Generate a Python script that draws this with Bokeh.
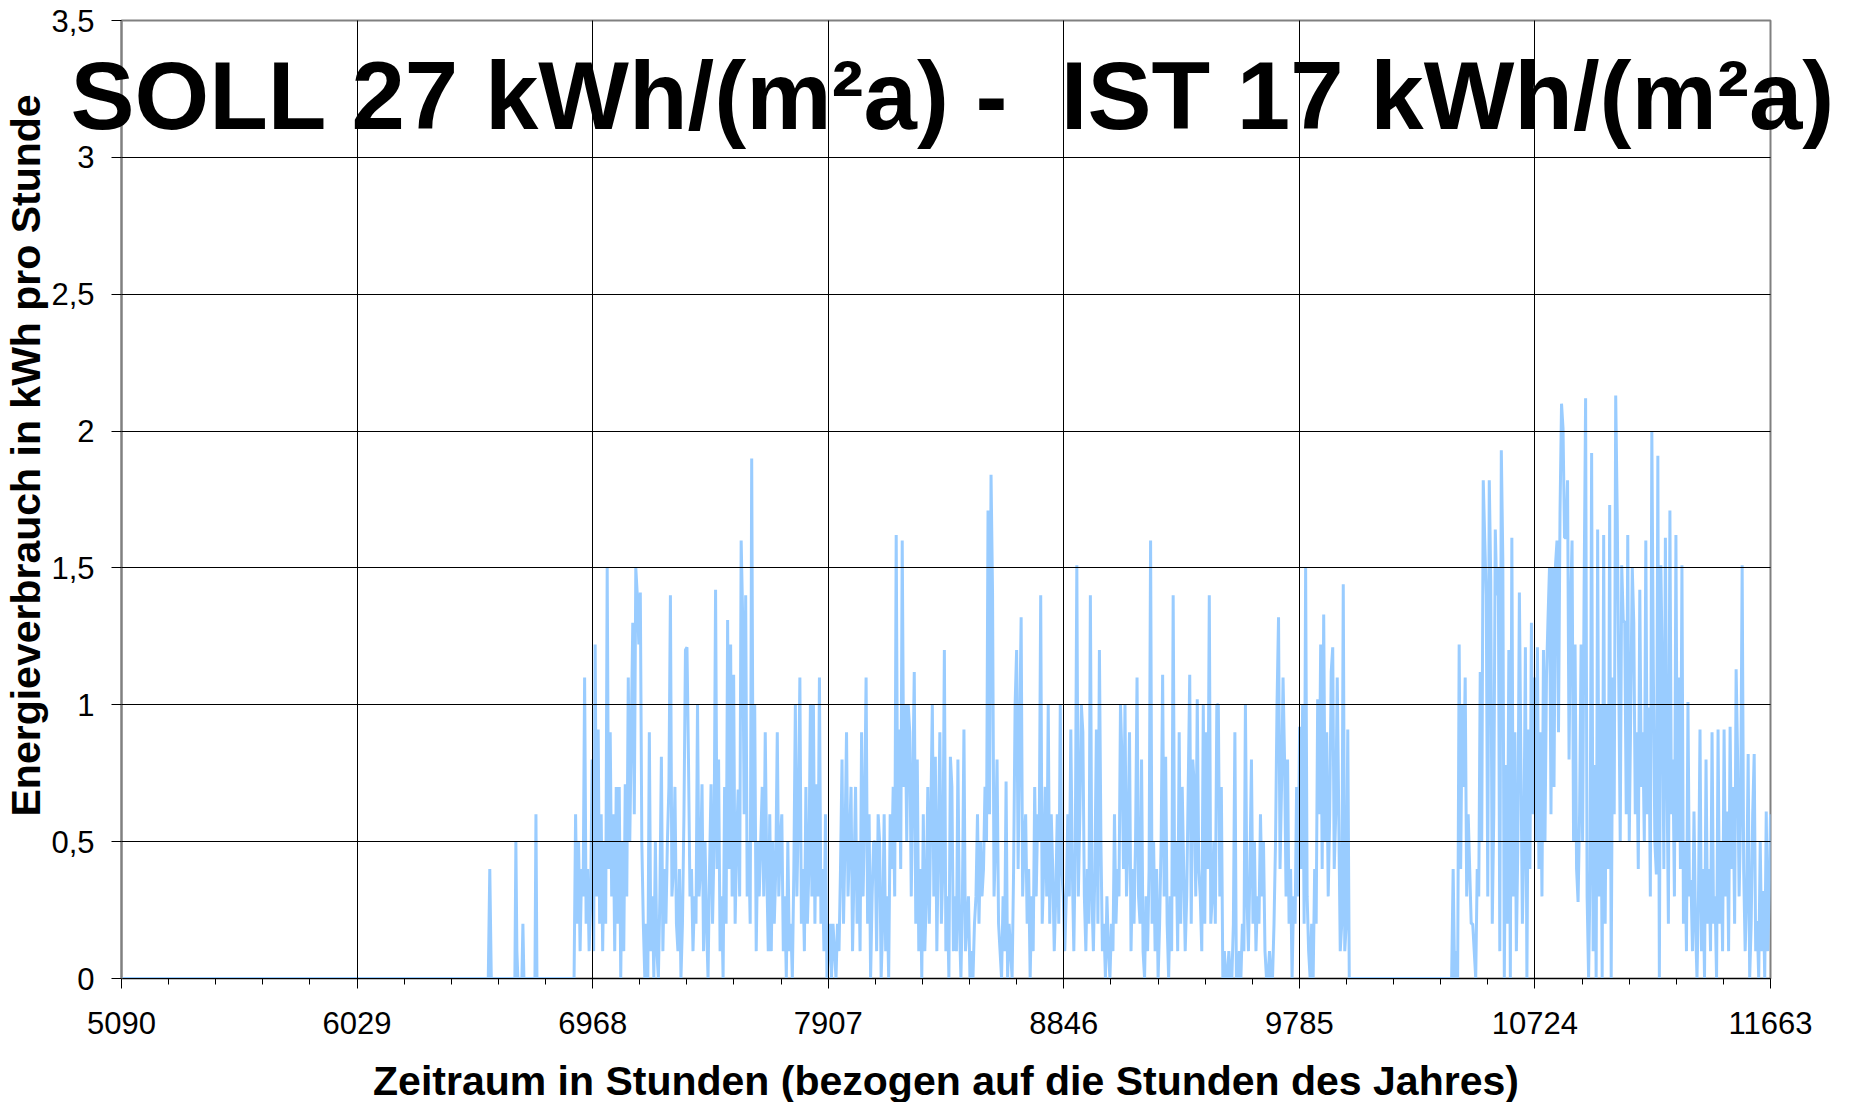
import numpy as np
from bokeh.plotting import figure
from bokeh.models import Range1d, FixedTicker, Title
from bokeh.embed import file_html
from bokeh.resources import INLINE

# ---------------- data ----------------
title_text = "SOLL 27 kWh/(m²a) -\u00a0 IST 17 kWh/(m²a)"
x_title = "Zeitraum in Stunden (bezogen auf die Stunden des Jahres)"
y_title = "Energieverbrauch in kWh pro Stunde"

x_ticks = [5090, 6029, 6968, 7907, 8846, 9785, 10724, 11663]
x_tick_labels = ["5090", "6029", "6968", "7907", "8846", "9785", "10724", "11663"]
y_ticks = [0, 0.5, 1, 1.5, 2, 2.5, 3, 3.5]
y_tick_labels = ["0", "0,5", "1", "1,5", "2", "2,5", "3", "3,5"]

# sparse start (hour, kWh)
pre_hours = [5090, 6552, 6558, 6564, 6658, 6662, 6666, 6670, 6686, 6690, 6694, 6738, 6742, 6746, 6894]
pre_values = [0, 0, 0.4, 0, 0, 0.5, 0.1, 0, 0, 0.2, 0, 0, 0.6, 0, 0]

# first heating block: every 6 hours from hour 6900
a_start, a_step = 6900, 6
a_values = [
    0.6, 0.2, 0.5, 0.1, 0.4, 0.3, 1.1, 0.2, 0.4, 0.1, 0.3, 0.8, 0.1, 1.22, 0.3, 0.91, 0.2, 0.6, 0.1, 0.5,
    0.2, 1.5, 0.4, 0.9, 0.3, 0.6, 0.1, 0.7, 0.2, 0.7, 0.0, 0.5, 0.1, 0.71, 0.3, 1.1, 0.5, 0.9, 1.3, 0.6,
    1.5, 1.4, 1.22, 1.41, 0.5, 0.2, 0.0, 0.2, 0.0, 0.9, 0.1, 0.3, 0.0, 0.5, 0.1, 0.0, 0.3, 0.81, 0.1, 0.4,
    0.2, 0.5, 0.7, 1.4, 0.3, 0.4, 0.7, 0.2, 0.1, 0.4, 0.0, 0.2, 0.6, 1.2, 1.21, 0.8, 0.3, 0.4, 0.1, 0.3,
    0.2, 1.0, 0.3, 0.4, 0.71, 0.1, 0.5, 0.2, 0.0, 0.4, 0.71, 0.2, 0.5, 1.42, 0.4, 0.8, 0.1, 0.3, 0.0, 0.7,
    0.2, 1.31, 0.4, 1.22, 0.3, 1.11, 0.2, 0.5, 0.69, 0.3, 1.6, 1.32, 0.6, 1.4, 0.3, 0.5, 0.2, 1.9, 0.5, 1.0,
    0.1, 0.5, 0.3, 0.5, 0.7, 0.3, 0.9, 0.4, 0.1, 0.6, 0.1, 0.5, 0.2, 0.4, 0.9, 0.3, 0.5, 0.6, 0.1, 0.3,
    0.0, 0.5, 0.1, 0.2, 0.0, 0.4, 1.0, 0.3, 0.6, 1.1, 0.2, 0.4, 0.1, 0.7, 0.2, 0.4, 1.0, 0.3, 1.0, 0.2,
    0.71, 0.3, 1.1, 0.2, 0.4, 0.1, 0.6, 0.0, 0.1, 0.2, 0.0, 0.2, 0.1, 0.0, 0.2, 0.1, 0.4, 0.8, 0.2, 0.5,
    0.9, 0.3, 0.5, 0.7, 0.1, 0.4, 0.7, 0.2, 0.5, 0.1, 0.9, 0.3, 0.6, 1.1, 0.2, 0.6, 0.0, 0.3, 0.5, 0.5,
    0.1, 0.6, 0.5, 0.0, 0.2, 0.6, 0.1, 0.3, 0.0, 0.6, 0.4, 0.7, 0.3, 1.62, 0.5, 0.91, 0.4, 1.6, 0.7, 1.0,
    0.5, 1.0, 0.9, 0.3, 0.71, 1.12, 0.2, 0.8, 0.1, 0.4, 0.0, 0.6, 0.1, 0.3, 0.7, 0.2, 0.6, 1.0, 0.3, 0.81,
    0.1, 0.5, 0.9, 0.2, 0.4, 1.2, 0.1, 0.3, 0.0, 0.81, 0.7, 0.1, 0.3, 0.1, 0.8, 0.2, 0.0, 0.3, 0.91, 0.1,
    0.2, 0.3, 0.0, 0.1, 0.0, 0.2, 0.3, 0.6, 0.2, 0.5, 0.3, 0.4, 0.7, 0.5, 1.71, 0.6, 1.84, 1.41, 0.3, 0.5,
    0.8, 0.2, 0.1, 0.0, 0.3, 0.1, 0.72, 0.0, 0.2, 0.1, 0.0, 0.4, 1.0, 1.2, 0.4, 0.9, 1.32, 0.3, 0.5, 0.6,
    0.2, 0.4, 0.0, 0.3, 0.1, 0.7, 0.3, 0.6, 0.5, 1.4, 0.2, 0.4, 0.7, 0.3, 1.0, 0.2, 0.6, 0.4, 0.1, 0.3,
    0.6, 0.2, 1.0, 0.4, 0.3, 0.1, 0.3, 0.6, 0.3, 0.91, 0.4, 0.1, 0.5, 1.51, 0.3, 0.6, 1.0, 0.9, 0.3, 0.1,
    0.4, 0.2, 1.4, 0.3, 0.1, 0.4, 0.91, 0.2, 1.2, 0.5, 0.1, 0.2, 0.0, 0.3, 0.1, 0.0, 0.2, 0.1, 0.6, 0.2,
    0.4, 0.3, 1.0, 0.8, 0.4, 1.0, 0.3, 0.5, 0.9, 0.1, 0.4, 0.2, 0.5, 1.1, 0.3, 0.2, 0.8, 0.1, 0.0, 0.3,
    0.1, 0.4, 1.6, 0.2, 0.5, 0.1, 0.4, 0.0, 0.2, 0.5, 1.11, 0.3, 0.81, 0.2, 0.0, 0.3, 0.1, 1.4, 0.3, 0.5,
    0.1, 0.9, 0.2, 0.7, 0.4, 0.1, 0.3, 0.7, 1.11, 0.2, 0.8, 0.71, 0.3, 1.02, 0.4, 0.3, 0.1, 1.0, 0.2, 0.9,
    0.4, 1.4, 0.2, 0.3, 0.5, 0.2, 1.0, 1.0, 0.3, 0.7, 0.0, 0.1, 0.0, 0.0, 0.1, 0.0, 0.0, 0.2, 0.9, 0.0,
    0.0, 0.1, 0.0, 0.2, 0.1, 1.0, 0.3, 0.1, 0.4, 0.8, 0.2, 0.5, 0.1, 0.3, 0.2, 0.6, 0.3, 0.5, 0.1, 0.0,
    0.0, 0.1, 0.0, 0.0, 0.2, 0.5, 1.0, 1.32, 0.4, 0.7, 1.1, 0.8, 0.3, 0.8, 0.2, 0.4, 0.0, 0.3, 0.2, 0.7,
    0.3, 0.92, 0.4, 1.0, 0.2, 1.5, 0.3, 0.1, 0.0, 0.2, 0.0, 0.4, 0.2, 1.02, 0.6, 1.22, 0.4, 1.33, 0.5, 0.9,
    0.3, 0.6, 1.12, 1.21, 0.4, 0.6, 1.1, 0.6, 0.1, 0.2, 1.44, 0.1, 0.2, 0.91, 0.0,
]

# summer pause
gap_hours = [9990, 10392]
gap_values = [0, 0]

# second heating block: every 6 hours from hour 10398
b_start, b_step = 10398, 6
b_values = [
    0.4, 0.0, 0.1, 0.0, 1.22, 0.4, 1.0, 0.7, 1.1, 0.3, 0.6, 0.4, 0.2, 0.2, 0.1, 0.0, 0.4, 0.3, 1.12, 0.5,
    1.82, 1.6, 1.4, 0.3, 1.82, 1.45, 0.2, 0.6, 1.64, 1.4, 1.5, 0.1, 1.93, 1.53, 0.0, 0.78, 0.2, 1.2, 0.0, 1.61,
    0.3, 0.9, 0.1, 0.5, 1.41, 0.8, 0.2, 0.5, 1.21, 0.0, 0.91, 0.4, 1.3, 0.6, 1.1, 0.5, 1.21, 0.4, 0.9, 0.3,
    1.2, 0.5, 1.1, 1.31, 1.5, 0.6, 1.5, 0.7, 1.51, 1.6, 0.9, 1.7, 2.1, 2.01, 1.61, 1.61, 1.82, 0.8, 1.36, 1.6,
    0.5, 1.22, 0.4, 0.28, 0.6, 1.22, 0.5, 1.42, 2.12, 0.3, 0.0, 0.4, 1.92, 0.1, 0.78, 0.0, 1.64, 0.3, 1.0, 0.0,
    1.62, 0.2, 1.0, 0.4, 1.73, 0.0, 1.1, 0.6, 2.13, 1.7, 1.1, 0.5, 1.51, 1.31, 1.3, 0.6, 1.62, 0.5, 0.99, 1.5,
    1.3, 0.6, 0.9, 0.4, 1.42, 0.7, 0.9, 0.5, 1.6, 0.6, 0.99, 0.3, 2.0, 1.12, 0.5, 0.38, 1.91, 0.0, 1.51, 1.1,
    0.4, 1.61, 0.78, 0.2, 1.71, 0.6, 0.8, 0.3, 1.62, 0.5, 1.1, 0.4, 1.51, 0.2, 0.5, 0.1, 1.01, 0.3, 0.36, 0.1,
    0.61, 0.2, 0.0, 0.3, 0.91, 0.1, 0.4, 0.0, 0.8, 0.2, 0.4, 0.1, 0.9, 0.2, 0.3, 0.0, 0.91, 0.2, 0.5, 0.1,
    0.91, 0.3, 0.61, 0.1, 0.92, 0.4, 0.7, 0.2, 1.13, 0.8, 0.3, 0.6, 1.51, 0.4, 0.1, 0.3, 0.82, 0.0, 0.2, 0.6,
    0.82, 0.1, 0.21, 0.0, 0.5, 0.1, 0.32, 0.0, 0.61, 0.1, 0.3,
]

end_hours = [11663]
end_values = [0.6]

# ---------------- assemble ----------------
a_hours = a_start + a_step * np.arange(len(a_values))
b_hours = b_start + b_step * np.arange(len(b_values))
hours = np.concatenate([pre_hours, a_hours, gap_hours, b_hours, end_hours]).astype(float)
values = np.concatenate([pre_values, a_values, gap_values, b_values, end_values]).astype(float)

FONT = "Liberation Sans"

p = figure(
    output_backend="svg", toolbar_location=None,
    frame_width=1649, frame_height=958,
    min_border_left=120, min_border_right=77, min_border_top=20, min_border_bottom=122,
    x_range=Range1d(x_ticks[0], x_ticks[-1]), y_range=Range1d(y_ticks[0], y_ticks[-1]),
    background_fill_color="white", border_fill_color="white",
)
p.outline_line_color = "#808080"
p.outline_line_width = 2

p.line(hours, values, line_color="#99CCFF", line_width=3)

# chart title, drawn from the top panel down into the plot area
p.title = Title(text=title_text, align="left", offset=-51, standoff=-256,
                vertical_align="bottom",
                text_font=FONT, text_font_style="bold", text_font_size="96px",
                text_color="black")

# y axis title as a side title (positioned along the axis)
p.add_layout(Title(text=y_title, align="left", offset=162, standoff=0,
                   vertical_align="bottom",
                   text_font=FONT, text_font_style="bold", text_font_size="41px",
                   text_color="black"), "left")

# x axis
minor = [a + (b - a) * k / 5 for a, b in zip(x_ticks[:-1], x_ticks[1:]) for k in range(1, 5)]
p.xaxis.ticker = FixedTicker(ticks=x_ticks, minor_ticks=minor)
p.xaxis.major_label_overrides = {t: l for t, l in zip(x_ticks, x_tick_labels)}
p.xaxis.axis_line_color = "black"
p.xaxis.major_tick_line_color = "black"
p.xaxis.minor_tick_line_color = "black"
p.xaxis.major_tick_out = 10
p.xaxis.major_tick_in = 0
p.xaxis.minor_tick_out = 6
p.xaxis.minor_tick_in = 0
p.xaxis.major_label_standoff = 23
p.xaxis.major_label_text_font = FONT
p.xaxis.major_label_text_font_size = "31px"
p.xaxis.major_label_text_color = "black"
p.xaxis.axis_label = x_title
p.xaxis.axis_label_standoff = 21
p.xaxis.axis_label_text_font = FONT
p.xaxis.axis_label_text_font_style = "bold"
p.xaxis.axis_label_text_font_size = "41px"
p.xaxis.axis_label_text_color = "black"

# y axis
p.yaxis.ticker = FixedTicker(ticks=y_ticks)
p.yaxis.major_label_overrides = {t: l for t, l in zip(y_ticks, y_tick_labels)}
p.yaxis.axis_line_color = "#808080"
p.yaxis.axis_line_width = 2
p.yaxis.major_tick_line_color = "black"
p.yaxis.major_tick_out = 10
p.yaxis.major_tick_in = 0
p.yaxis.minor_tick_out = 0
p.yaxis.minor_tick_in = 0
p.yaxis.major_label_standoff = 17
p.yaxis.major_label_text_font = FONT
p.yaxis.major_label_text_font_size = "31px"
p.yaxis.major_label_text_color = "black"

# grid
p.xgrid.ticker = FixedTicker(ticks=x_ticks[1:-1])
p.ygrid.ticker = FixedTicker(ticks=y_ticks[1:-1])
p.xgrid.grid_line_color = "black"
p.ygrid.grid_line_color = "black"
p.xgrid.grid_line_width = 1
p.ygrid.grid_line_width = 1
p.xgrid.level = "guide"
p.ygrid.level = "guide"

open("out.html", "w").write(file_html(p, INLINE))
